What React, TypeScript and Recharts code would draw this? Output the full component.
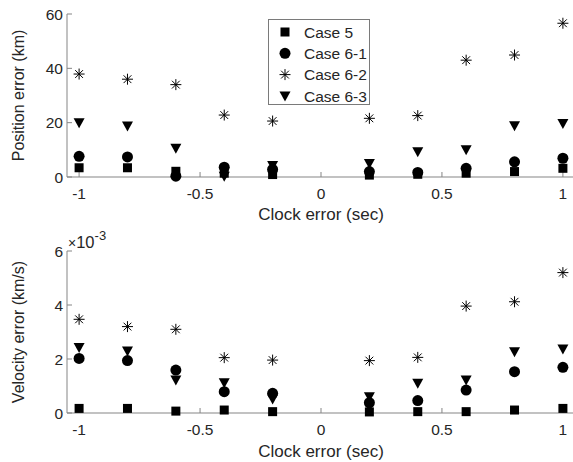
import React from "react";
import { Label, Scatter, ScatterChart, XAxis, YAxis } from "recharts";

const clockError = [-1, -0.8, -0.6, -0.4, -0.2, 0.2, 0.4, 0.6, 0.8, 1];
const xTicks = [-1, -0.5, 0, 0.5, 1];

// position error (km)
const posCase5 = [3.4, 3.4, 2.1, 1.4, 0.9, 0.7, 1.0, 1.4, 2.0, 3.2];
const posCase61 = [7.6, 7.4, 0.3, 3.6, 2.8, 2.0, 1.7, 3.2, 5.6, 6.9];
const posCase62 = [37.9, 36.0, 34.0, 22.8, 20.6, 21.6, 22.6, 43.0, 44.9, 56.6];
const posCase63 = [20.0, 18.8, 10.6, 0.3, 4.2, 5.0, 9.3, 10.0, 18.9, 19.7];
const posTicks = [0, 20, 40, 60];

// velocity error, in units of 1e-3 km/s
const velCase5 = [0.17, 0.17, 0.07, 0.11, 0.05, 0.04, 0.05, 0.05, 0.11, 0.17];
const velCase61 = [2.02, 1.94, 1.59, 0.79, 0.73, 0.38, 0.46, 0.85, 1.53, 1.69];
const velCase62 = [3.47, 3.2, 3.1, 2.05, 1.96, 1.94, 2.06, 3.96, 4.12, 5.2];
const velCase63 = [2.43, 2.3, 1.22, 1.12, 0.52, 0.6, 1.1, 1.22, 2.27, 2.37];
const velTicks = [0, 2, 4, 6];

const caseNames = ["Case 5", "Case 6-1", "Case 6-2", "Case 6-3"];

const axisColor = "#858585";
const textColor = "#262626";
const font = "'Liberation Sans', Arial, sans-serif";

const Square = ({ cx, cy }: any) => (
  <rect x={cx - 4.5} y={cy - 4.5} width={9} height={9} fill="#000" />
);
const Circle = ({ cx, cy }: any) => <circle cx={cx} cy={cy} r={5.5} fill="#000" />;
const Asterisk = ({ cx, cy }: any) => {
  const r = 5.5;
  const d = r * 0.7071;
  return (
    <g stroke="#000" strokeWidth={1}>
      <line x1={cx - r} y1={cy} x2={cx + r} y2={cy} />
      <line x1={cx} y1={cy - r} x2={cx} y2={cy + r} />
      <line x1={cx - d} y1={cy - d} x2={cx + d} y2={cy + d} />
      <line x1={cx - d} y1={cy + d} x2={cx + d} y2={cy - d} />
    </g>
  );
};
const TriangleDown = ({ cx, cy }: any) => (
  <polygon
    points={`${cx - 5.5},${cy - 4.5} ${cx + 5.5},${cy - 4.5} ${cx},${cy + 5.5}`}
    fill="#000"
  />
);
const shapes = [Square, Circle, Asterisk, TriangleDown];

const toPoints = (ys: number[]) => clockError.map((x, i) => ({ x, y: ys[i] }));

type PanelProps = {
  height: number;
  top: number;
  xAxisHeight: number;
  titleOffset: number;
  yLabel: string;
  yDomain: [number, number];
  yTicks: number[];
  series: number[][];
  exponent?: boolean;
};

function Panel({
  height,
  top,
  xAxisHeight,
  titleOffset,
  yLabel,
  yDomain,
  yTicks,
  series,
  exponent,
}: PanelProps) {
  const tickStyle = { fill: textColor, fontSize: 15.5 };
  return (
    <ScatterChart width={575} height={height} margin={{ top, right: 0, bottom: 0, left: 0 }}>
      <XAxis
        type="number"
        dataKey="x"
        domain={[-1.05, 1.05]}
        ticks={xTicks}
        interval={0}
        height={xAxisHeight}
        stroke={axisColor}
        tickSize={-5}
        tickMargin={16}
        tick={tickStyle}
      >
        <Label
          content={({ viewBox }: any) => (
            <text
              x={viewBox.x + viewBox.width / 2}
              y={viewBox.y + viewBox.height - titleOffset}
              textAnchor="middle"
              fontSize={17}
              fill={textColor}
            >
              Clock error (sec)
            </text>
          )}
        />
      </XAxis>
      <XAxis
        xAxisId="top"
        orientation="top"
        type="number"
        domain={[-1.05, 1.05]}
        ticks={xTicks}
        interval={0}
        height={0}
        stroke={axisColor}
        tickSize={-5}
        tick={false}
      />
      <YAxis
        type="number"
        dataKey="y"
        domain={yDomain}
        ticks={yTicks}
        interval={0}
        width={67}
        stroke={axisColor}
        tickSize={-5}
        tickMargin={9}
        tick={tickStyle}
      >
        <Label
          content={({ viewBox }: any) => {
            const cy = viewBox.y + viewBox.height / 2;
            return (
              <g>
                <text
                  x={18}
                  y={cy}
                  transform={`rotate(-90 18 ${cy})`}
                  textAnchor="middle"
                  dominantBaseline="central"
                  fontSize={16}
                  fill={textColor}
                >
                  {yLabel}
                </text>
                {exponent && (
                  <text x={viewBox.x + viewBox.width + 1} y={viewBox.y - 3} fill={textColor} fontSize={16.5}>
                    <tspan fontSize={14}>×</tspan>
                    <tspan>10</tspan>
                    <tspan dy={-8} fontSize={13}>
                      -3
                    </tspan>
                  </text>
                )}
              </g>
            );
          }}
        />
      </YAxis>
      <YAxis
        yAxisId="right"
        orientation="right"
        type="number"
        domain={yDomain}
        ticks={yTicks}
        interval={0}
        width={0}
        stroke={axisColor}
        tickSize={-5}
        tick={false}
      />
      {series.map((ys, i) => (
        <Scatter
          key={caseNames[i]}
          name={caseNames[i]}
          data={toPoints(ys)}
          shape={shapes[i]}
          isAnimationActive={false}
        />
      ))}
    </ScatterChart>
  );
}

function CaseLegend() {
  const rowY = [13, 34.3, 55.6, 77];
  return (
    <svg
      width={102}
      height={86}
      style={{ position: "absolute", left: 268, top: 19 }}
    >
      <rect x={0.5} y={0.5} width={101} height={85} fill="#fff" stroke="#7a7a7a" />
      {caseNames.map((name, i) => {
        const Shape = shapes[i];
        return (
          <g key={name}>
            <Shape cx={17} cy={rowY[i]} />
            <text x={36} y={rowY[i]} dominantBaseline="central" fontSize={15.5} fill={textColor}>
              {name}
            </text>
          </g>
        );
      })}
    </svg>
  );
}

export default function App() {
  return (
    <div
      style={{
        position: "fixed",
        left: 0,
        top: 0,
        width: 573,
        height: 462,
        overflow: "hidden",
        background: "#fff",
        fontFamily: font,
      }}
    >
      <Panel
        height={226}
        top={14}
        xAxisHeight={49}
        titleOffset={6}
        yLabel="Position error (km)"
        yDomain={[0, 60]}
        yTicks={posTicks}
        series={[posCase5, posCase61, posCase62, posCase63]}
      />
      <Panel
        height={236}
        top={25}
        xAxisHeight={49}
        titleOffset={5}
        yLabel="Velocity error (km/s)"
        yDomain={[0, 6]}
        yTicks={velTicks}
        series={[velCase5, velCase61, velCase62, velCase63]}
        exponent
      />
      <CaseLegend />
    </div>
  );
}
